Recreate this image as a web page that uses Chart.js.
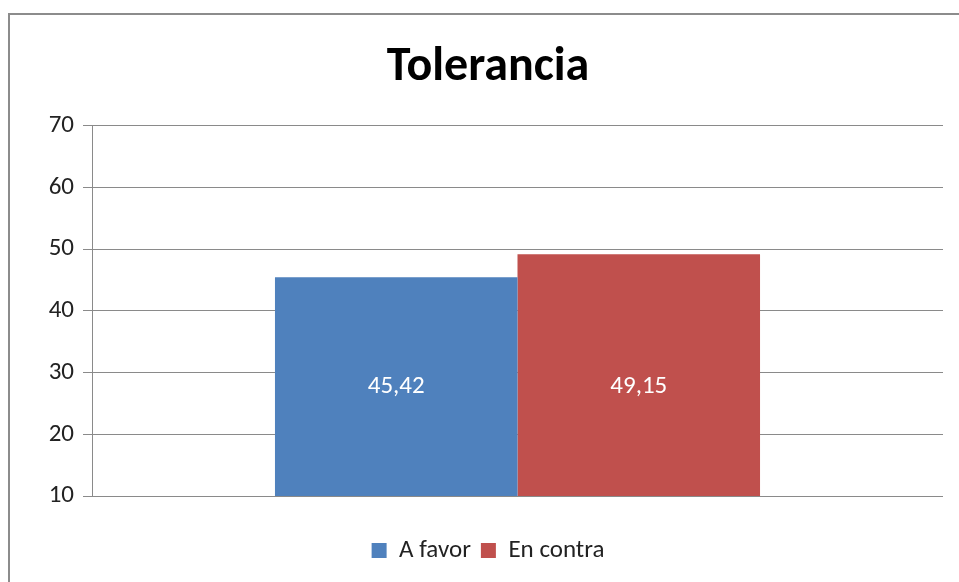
<!DOCTYPE html>
<html lang="es">
<head>
  <meta charset="UTF-8">
  <title>Tolerancia</title>
  <script src="https://cdn.jsdelivr.net/npm/chart.js"></script>
</head>
<body style="margin:0; background:#fff; overflow:hidden;">

  <!-- marco del grafico -->
  <div style="position:absolute; left:8px; top:13px; width:1000px; height:700px; border:2px solid #8c8c8c; box-sizing:border-box;"></div>

  <div style="position:absolute; left:0; top:0; width:959px; height:582px;">
    <canvas id="tolChart" width="959" height="582"></canvas>
  </div>

  <script>
    const categories = ['Tolerancia'];
    const seriesNames = ['A favor', 'En contra'];
    const aFavor = [45.42];
    const enContra = [49.15];
    const yTicks = [10, 20, 30, 40, 50, 60, 70];

    const fontFam = "Carlito, 'Liberation Sans', 'DejaVu Sans', sans-serif";

    // etiquetas blancas dentro de las barras (misma altura, centro de la barra mas baja)
    const barLabels = {
      id: 'barLabels',
      afterDatasetsDraw(chart) {
        const ctx = chart.ctx;
        const bottom = chart.chartArea.bottom;
        let midY = -Infinity;
        chart.data.datasets.forEach((ds, i) => {
          chart.getDatasetMeta(i).data.forEach(el => {
            const c = (el.y + Math.min(el.base, bottom)) / 2;
            if (c > midY) midY = c;
          });
        });
        ctx.save();
        ctx.fillStyle = '#fff';
        ctx.font = '25px ' + fontFam;
        ctx.textAlign = 'center';
        ctx.textBaseline = 'middle';
        chart.data.datasets.forEach((ds, i) => {
          chart.getDatasetMeta(i).data.forEach((el, j) => {
            const txt = String(ds.data[j]).replace('.', ',');
            ctx.fillText(txt, el.x, midY);
          });
        });
        ctx.restore();
      }
    };

    new Chart(document.getElementById('tolChart'), {
      type: 'bar',
      data: {
        labels: categories,
        datasets: [
          { label: seriesNames[0], data: aFavor, backgroundColor: '#4F81BD', categoryPercentage: 0.57, barPercentage: 1 },
          { label: seriesNames[1], data: enContra, backgroundColor: '#C0504D', categoryPercentage: 0.57, barPercentage: 1 }
        ]
      },
      options: {
        responsive: false,
        animation: false,
        layout: { padding: { left: 33, right: 16, top: 0, bottom: 9 } },
        scales: {
          x: {
            ticks: { display: false },
            grid: { display: false },
            border: { display: false },
            afterFit: (s) => { s.height = 32; }
          },
          y: {
            min: 10,
            max: 70,
            afterBuildTicks: (s) => { s.ticks = yTicks.map(v => ({ value: v })); },
            afterFit: (s) => { s.width = 59; },
            ticks: { color: '#222', font: { size: 25, family: fontFam }, padding: 9 },
            grid: { color: '#8a8a8a', lineWidth: 1, tickLength: 9 },
            border: { color: '#8a8a8a', width: 1 }
          }
        },
        plugins: {
          title: {
            display: true,
            text: 'Tolerancia',
            color: '#000',
            font: { size: 48, weight: 'bold', family: fontFam },
            padding: { top: 39, bottom: 29 }
          },
          legend: {
            position: 'bottom',
            labels: {
              color: '#222',
              font: { size: 25, family: fontFam },
              boxWidth: 15,
              boxHeight: 15,
              padding: 10
            }
          },
          tooltip: { enabled: false }
        }
      },
      plugins: [barLabels]
    });
  </script>

</body>
</html>
